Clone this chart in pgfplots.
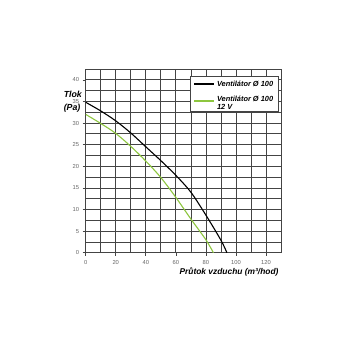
\documentclass[border=0pt]{standalone}
\usepackage{fontspec}
\setmainfont{Liberation Sans}
\usepackage{pgfplots}
\pgfplotsset{compat=1.18}
\definecolor{lgreen}{HTML}{8DC63F}
\definecolor{gridc}{HTML}{444444}
\begin{document}
\begin{tikzpicture}[x=1pt,y=1pt]
\path[use as bounding box] (0,0) rectangle (350,350);
\begin{axis}[
  at={(85.7pt,97.3pt)}, anchor=south west,
  scale only axis, width=195.3pt, height=183.7pt,
  xmin=0, xmax=130, ymin=0, ymax=42.5,
  xtick={0,20,...,120}, minor xtick={10,30,...,130},
  ytick={0,5,...,40}, minor ytick={2.5,7.5,...,42.5},
  grid=both,
  major grid style={gridc, line width=0.7pt},
  minor grid style={gridc, line width=0.7pt},
  axis line style={gridc, line width=0.8pt},
  tick align=outside, major tick length=3pt, minor tick length=0pt,
  tick style={gridc, line width=0.6pt},
  xtick pos=bottom, ytick pos=left,
  /pgf/number format/assume math mode=true,
  ticklabel style={font=\fontsize{5.8}{6}\selectfont, text=black!60},
  xticklabel style={yshift=-1pt},
  xlabel={Průtok vzduchu (m³/hod)},
  xlabel style={font=\fontsize{8.4}{9}\selectfont\bfseries\itshape, at={(axis description cs:1.005,-0.105)}, anchor=east},
  ylabel={Tlok\\(Pa)},
  ylabel style={font=\fontsize{8.8}{12.5}\selectfont\bfseries\itshape, rotate=-90, align=left, at={(axis description cs:-0.066,0.823)}, anchor=center},
  legend style={at={(1,1)}, anchor=north east, xshift=-2pt, yshift=-6.7pt,
    draw=gridc, line width=0.7pt, fill=white,
    font=\fontsize{7.4}{8}\selectfont\bfseries\itshape,
    inner xsep=3.5pt, inner ysep=3pt, row sep=3.5pt,
    cells={anchor=west}},
  legend image code/.code={\draw[#1, line width=1.5pt] (0pt,0.3pt) -- (20pt,0.3pt);},
]
\addplot[black, line width=1.1pt, smooth] coordinates {
(0,34.8) (10,32.8) (20,30.5) (30,27.7) (40,24.5) (50,21.3) (60,17.9) (70,14.0) (80,8.7) (90,2.9) (94,0)};
\addlegendentry{Ventilátor Ø 100}
\addplot[lgreen, line width=1.1pt, smooth] coordinates {
(0,32.0) (10,29.9) (20,27.6) (30,24.6) (40,21.2) (50,17.4) (60,12.8) (70,7.8) (80,3.0) (85,0)};
\addlegendentry{\begin{tabular}{@{}l@{}}Ventilátor Ø 100\\12 V\end{tabular}}
\end{axis}
\end{tikzpicture}
\end{document}
